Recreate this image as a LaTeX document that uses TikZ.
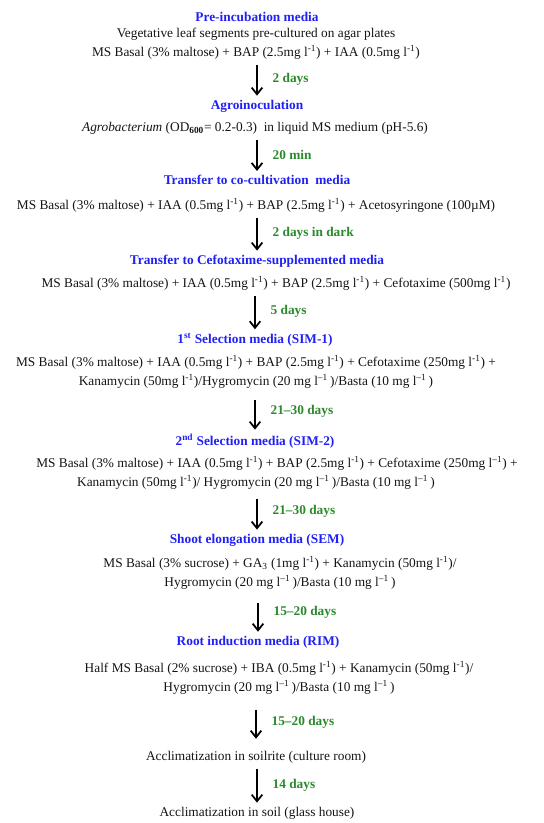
\documentclass[tikz,border=0pt]{standalone}
\usepackage{fontspec}
\setmainfont{Liberation Serif}
\usetikzlibrary{arrows.meta, positioning, calc}
\definecolor{mediablue}{HTML}{2020F5}
\definecolor{daygreen}{HTML}{2A8A2A}
\definecolor{textdark}{HTML}{141414}
\newcommand{\lper}{l\textsuperscript{-1}}
\newcommand{\lpen}{l\textsuperscript{--1}\,}
\tikzset{
  arr/.style={-{Straight Barb[length=5pt, width=8pt, line width=1.3pt]}, line width=1.4pt, black},
  mtitle/.style={font=\fontsize{10}{12}\selectfont\bfseries, text=mediablue, inner sep=1pt},
  mbody/.style={font=\fontsize{10}{14.5}\selectfont, text=textdark, align=center, inner sep=1pt},
  dlabel/.style={font=\fontsize{10}{12}\selectfont\bfseries, text=daygreen, anchor=west, inner sep=1pt},
}

\begin{document}
\begin{tikzpicture}[x=0.75pt, y=-0.75pt]
  \useasboundingbox (0,0) rectangle (543,823);

  % Media stages
  \node[mtitle] (T1) at (257,17) {Pre-incubation media};
  \node[mbody] (B1) at (256,43.5) {Vegetative leaf segments pre-cultured on agar plates\\MS Basal (3\% maltose) + BAP (2.5mg \lper) + IAA (0.5mg \lper)};
  \node[mtitle] (T2) at (257,106) {Agroinoculation};
  \node[mbody] (B2) at (255,128) {\textit{Agrobacterium} (OD\textsubscript{\textbf{600}}= 0.2-0.3)\ \ in liquid MS medium (pH-5.6)};
  \node[mtitle] (T3) at (257,180) {Transfer to co-cultivation\ \ media};
  \node[mbody] (B3) at (256,205) {MS Basal (3\% maltose) + IAA (0.5mg \lper) + BAP (2.5mg \lper) + Acetosyringone (100µM)};
  \node[mtitle] (T4) at (257,261) {Transfer to Cefotaxime-supplemented media};
  \node[mbody] (B4) at (276,283) {MS Basal (3\% maltose) + IAA (0.5mg \lper) + BAP (2.5mg \lper) + Cefotaxime (500mg \lper)};
  \node[mtitle] (T5) at (255,340) {1\textsuperscript{st} Selection media (SIM-1)};
  \node[mbody] (B5) at (256,372) {MS Basal (3\% maltose) + IAA (0.5mg \lper) + BAP (2.5mg \lper) + Cefotaxime (250mg \lper) +\\Kanamycin (50mg \lper)/Hygromycin (20 mg \lpen)/Basta (10 mg \lpen)};
  \node[mtitle] (T6) at (255,441) {2\textsuperscript{nd} Selection media (SIM-2)};
  \node[mbody] (B6) at (277,463) {MS Basal (3\% maltose) + IAA (0.5mg \lper) + BAP (2.5mg \lper) + Cefotaxime (250mg l\textsuperscript{--1}) +};
  \node[mbody] (B6x) at (256,482) {Kanamycin (50mg \lper)/ Hygromycin (20 mg \lpen)/Basta (10 mg \lpen)};
  \node[mtitle] (T7) at (257,540) {Shoot elongation media (SEM)};
  \node[mbody] (B7) at (280,573) {MS Basal (3\% sucrose) + GA\textsubscript{3} (1mg \lper) + Kanamycin (50mg \lper)/\\Hygromycin (20 mg \lpen)/Basta (10 mg \lpen)};
  \node[mtitle] (T8) at (258,642) {Root induction media (RIM)};
  \node[mbody] (B8) at (279,678) {Half MS Basal (2\% sucrose) + IBA (0.5mg \lper) + Kanamycin (50mg \lper)/\\Hygromycin (20 mg \lpen)/Basta (10 mg \lpen)};
  \node[mbody] (A1) at (256,757) {Acclimatization in soilrite (culture room)};
  \node[mbody] (A2) at (257,813) {Acclimatization in soil (glass house)};

  % Transfer arrows with durations
  \foreach \a/\b/\lab/\sa/\sb in {B1/T2/2 days/3/2, B2/T3/20 min/3/2, B3/T4/2 days in dark/3/2,
      B4/T5/5 days/3/2, B5/T6/21--30 days/7/2, B6x/T7/21--30 days/6/2, B7/T8/15--20 days/9/2,
      B8/A1/15--20 days/10/8, A1/A2/14 days/3/2} {
    \draw[arr, shorten <=\sa pt, shorten >=\sb pt] (\a.south -| \b.north) -- (\b.north)
      node[dlabel, midway, xshift=10pt] (d\b) {\lab};
  }
\end{tikzpicture}
\end{document}
